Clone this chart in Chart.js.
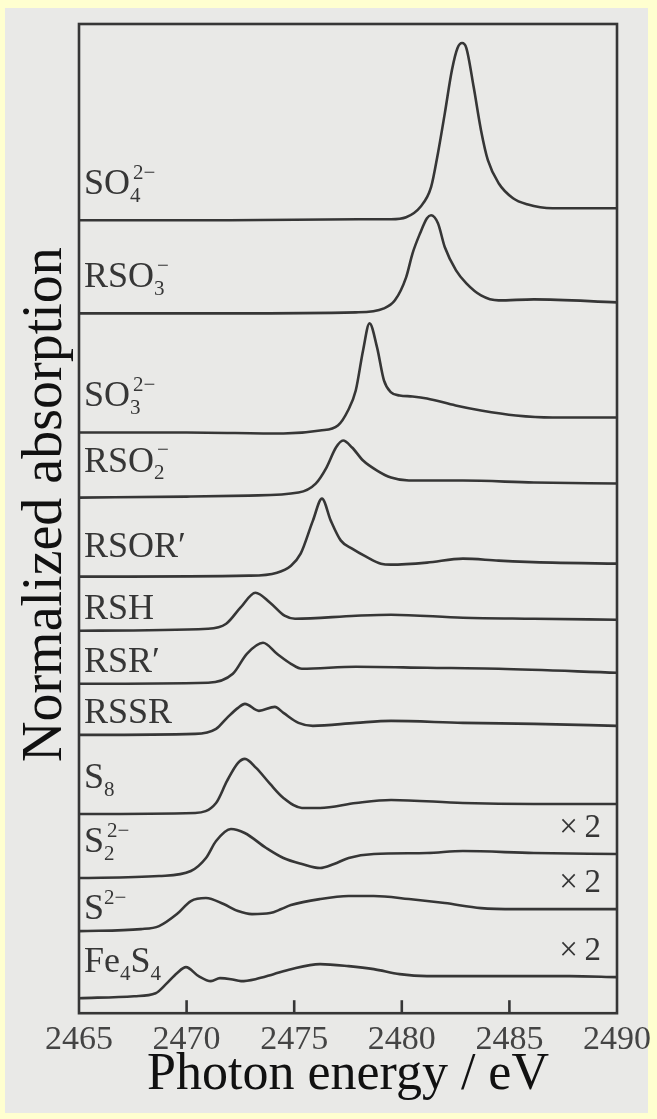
<!DOCTYPE html>
<html><head><meta charset="utf-8">
<script src="https://cdn.jsdelivr.net/npm/chart.js@4.4.1/dist/chart.umd.min.js"></script>
<style>
html,body{margin:0;padding:0;background:#FFFFD0;}
canvas{display:block}
</style></head><body>
<canvas id="c" width="657" height="1119"></canvas>
<script>
// ---------- data ----------
const seriesNames = ['SO₄²⁻','RSO₃⁻','SO₃²⁻','RSO₂⁻','RSOR′','RSH','RSR′','RSSR','S₈','S₂²⁻','S²⁻','Fe₄S₄'];
const scaleNotes  = ['','','','','','','','','','×2','×2','×2'];
const xTicks = [2465,2470,2475,2480,2485,2490];
const xTitle = 'Photon energy / eV';
const yTitle = 'Normalized absorption';

// photon energy (eV) and offset normalized absorption (arb. units) per spectrum
const eSO4 = [2465,2472,2478,2479.5,2480.2,2480.85,2481.36,2481.68,2482.0,2482.33,2482.59,2482.8,2483.0,2483.34,2483.68,2484.0,2484.5,2485.17,2485.82,2487,2490];
const aSO4 = [792,792,793,793,795,805,825,859,899,942,964,969,964,925,882,852,829,814,808,804,804];

const eRSO3 = [2465,2472,2477.87,2479.17,2479.68,2480.2,2480.5,2480.85,2481.17,2481.36,2481.68,2482.0,2482.52,2483.0,2483.68,2484.5,2486.14,2490];
const aRSO3 = [699,699,700,704,712,735,759,779,794,797,789,765,742,729,717,712,713,710];

const eSO3 = [2465,2470,2474.5,2476.2,2477.03,2477.5,2477.86,2478.2,2478.5,2478.85,2479.17,2479.5,2479.9,2480.5,2481.17,2482.5,2483.68,2485.3,2487,2490];
const aSO3 = [580,580,579,582,587,602,622,662,689,665,632,620,617,616,614,607,602,597,595,595];

const eRSO2 = [2465,2470,2472.9,2475.2,2476.0,2476.5,2476.94,2477.27,2477.69,2478.2,2478.85,2479.5,2480.33,2482.84,2486.14,2490];
const aRSO2 = [515,516,517,520,529,545,565,572,565,552,542,535,532,532,530,529];

const eRSOR = [2465,2472.9,2474.2,2474.85,2475.3,2475.87,2476.29,2476.7,2477.17,2477.69,2478.34,2479.03,2479.5,2481.17,2482.84,2484.5,2487,2490];
const aRSOR = [436,437,440,447,459,492,514,492,472,464,456,449,448,450,454,452,450,449];

const eRSH = [2465,2471.0,2471.84,2472.5,2473.2,2473.88,2474.55,2475.04,2477.87,2479.5,2482.84,2486.14,2490];
const aRSH = [382,384,389,405,420,410,397,394,397,398,395,394,393];

const eRSR = [2465,2471.0,2472.15,2472.8,2473.55,2474.2,2474.85,2475.36,2477.87,2481.17,2484.5,2490];
const aRSR = [329,330,339,359,370,359,349,344,346,345,344,340];

const eRSSR = [2465,2470.4,2471.37,2471.88,2472.39,2472.71,2473.36,2474.1,2474.5,2475.2,2475.87,2477.87,2479.5,2482.84,2486.14,2490];
const aRSSR = [278,279,284,295,305,309,302,306,300,290,287,290,292,290,289,287];

const eS8 = [2465,2470.4,2471.37,2471.88,2472.39,2472.71,2473.23,2473.88,2474.5,2475.36,2476.2,2477.87,2479.5,2482.84,2486.14,2490];
const aS8 = [199,200,210,232,250,254,245,229,215,205,205,210,213,210,209,209];

const eS2 = [2465,2468.72,2470.2,2470.9,2471.37,2472.06,2472.7,2473.7,2474.5,2475.36,2476.2,2476.85,2477.53,2478.7,2481.17,2482.84,2486.14,2490];
const aS2 = [135,137,142,155,172,184,180,165,155,149,145,149,155,159,160,162,160,159];

const eS = [2465,2467.88,2468.72,2469.55,2470.2,2470.9,2471.72,2472.39,2473.04,2473.88,2474.4,2474.85,2476.2,2477.53,2478.7,2480.33,2482.0,2483.68,2485.3,2490];
const aS = [82,84,87,99,112,115,109,102,99,100,104,108,114,117,117,114,110,105,104,104];

const eFe4S4 = [2465,2467.56,2468.56,2469.04,2469.55,2469.97,2470.56,2471.13,2471.55,2472.06,2472.53,2473.2,2474.04,2474.85,2476.2,2477.53,2478.7,2479.9,2481.17,2484.5,2487.8,2490];
const aFe4S4 = [15,17,20,29,40,46,37,32,35,34,32,34,39,44,49,47,44,39,37,37,37,36];

const energies = [eSO4,eRSO3,eSO3,eRSO2,eRSOR,eRSH,eRSR,eRSSR,eS8,eS2,eS,eFe4S4];
const absorb   = [aSO4,aRSO3,aSO3,aRSO2,aRSOR,aRSH,aRSR,aRSSR,aS8,aS2,aS,aFe4S4];

// ---------- styling ----------
const SERIF = '"Liberation Serif","Times New Roman",serif';
const INK = '#363636';

function parseRich(name){
  const sub = '₀₁₂₃₄₅₆₇₈₉', sup = '⁰¹²³⁴⁵⁶⁷⁸⁹';
  const parts = [];
  for (const ch of name){
    let kind = 'n', t = ch;
    if (sub.includes(ch)) { kind='sub'; t = String(sub.indexOf(ch)); }
    else if (sup.includes(ch)) { kind='sup'; t = String(sup.indexOf(ch)); }
    else if (ch === '⁻') { kind='sup'; t = '−'; }
    const last = parts[parts.length-1];
    if (last && last.kind === kind) last.t += t; else parts.push({kind, t});
  }
  return parts;
}
function drawRich(ctx, name, x, y, size){
  const parts = parseRich(name);
  let cx = x, subStart = null;
  ctx.textBaseline = 'alphabetic'; ctx.textAlign = 'left';
  parts.forEach(p => {
    if (p.kind === 'n'){
      ctx.font = size + 'px ' + SERIF;
      ctx.fillText(p.t, cx, y); cx += ctx.measureText(p.t).width; subStart = null;
    } else if (p.kind === 'sub'){
      ctx.font = Math.round(size*0.58) + 'px ' + SERIF;
      ctx.fillText(p.t, cx, y + size*0.22); subStart = cx; cx += ctx.measureText(p.t).width;
    } else {
      ctx.font = Math.round(size*0.58) + 'px ' + SERIF;
      const sx = subStart !== null ? subStart + 3 : cx;
      ctx.fillText(p.t, sx, y - size*0.42);
      cx = Math.max(cx, sx + ctx.measureText(p.t).width); subStart = null;
    }
  });
}

const deco = {
  id: 'deco',
  beforeDraw(chart){
    const {ctx, width, height} = chart;
    ctx.save();
    ctx.fillStyle = '#FFFFD0'; ctx.fillRect(0,0,width,height);
    ctx.fillStyle = '#E9E9E7'; ctx.fillRect(5,8,643,1105);
    ctx.restore();
  },
  afterDatasetsDraw(chart){
    const {ctx, chartArea: a, scales: {x, y}} = chart;
    ctx.save();
    ctx.strokeStyle = INK; ctx.lineWidth = 2.6;
    ctx.strokeRect(a.left, a.top, a.right - a.left, a.bottom - a.top);
    // inward tick marks
    x.ticks.forEach(t => {
      if (t.value <= x.min || t.value >= x.max) return;
      const px = x.getPixelForValue(t.value);
      ctx.beginPath(); ctx.moveTo(px, a.bottom); ctx.lineTo(px, a.bottom - 13); ctx.stroke();
    });
    // series labels
    ctx.fillStyle = INK;
    chart.data.datasets.forEach((ds, i) => {
      const y0 = y.getPixelForValue(absorb[i][0]);
      const yAbove = i === 0 ? a.top : y.getPixelForValue(absorb[i-1][0]);
      const hasSub = /[₀-₉]/.test(seriesNames[i]);
      const lift = hasSub ? 26 : Math.max(12, 0.3 * (y0 - yAbove) - 4);
      drawRich(ctx, seriesNames[i], a.left + 5, y0 - lift, 36);
      if (scaleNotes[i]){
        const yl = y.getPixelForValue(absorb[i][absorb[i].length-1]);
        ctx.font = '33px ' + SERIF; ctx.textAlign = 'right';
        ctx.fillText(scaleNotes[i].replace('×', '×\u2009'), a.right - 16, yl - 17);
        ctx.textAlign = 'left';
      }
    });
    // y-axis title (rotated)
    ctx.fillStyle = '#111';
    ctx.font = '56px ' + SERIF;
    ctx.translate(61, (a.top + a.bottom) / 2 - 14);
    ctx.rotate(-Math.PI / 2);
    ctx.textAlign = 'center'; ctx.textBaseline = 'alphabetic';
    ctx.fillText(yTitle, 0, 0);
    ctx.restore();
  }
};

const datasets = seriesNames.map((n, i) => ({
  label: n,
  data: energies[i].map((e, k) => ({x: e, y: absorb[i][k]})),
  borderColor: INK, borderWidth: 2.6, pointRadius: 0, fill: false,
  cubicInterpolationMode: 'monotone'
}));

new Chart(document.getElementById('c'), {
  type: 'line',
  data: { datasets },
  plugins: [deco],
  options: {
    responsive: false, animation: false, devicePixelRatio: 1,
    layout: { padding: { left: 79, right: 40, top: 24, bottom: 31 } },
    plugins: { legend: { display: false }, tooltip: { enabled: false } },
    scales: {
      x: {
        type: 'linear', min: 2465, max: 2490,
        afterBuildTicks: axis => { axis.ticks = xTicks.map(v => ({value: v})); },
        grid: { display: false, drawTicks: false }, border: { display: false },
        ticks: { font: { family: SERIF, size: 34, lineHeight: 1.2 }, color: '#444', padding: 6,
                 maxRotation: 0, autoSkip: false, callback: v => String(v) },
        title: { display: true, text: xTitle, color: '#111',
                 font: { family: SERIF, size: 52, lineHeight: 0.346 }, padding: { top: 0, bottom: 4 } }
      },
      y: { display: false, min: 0, max: 988 }
    }
  }
});
</script>
</body></html>
